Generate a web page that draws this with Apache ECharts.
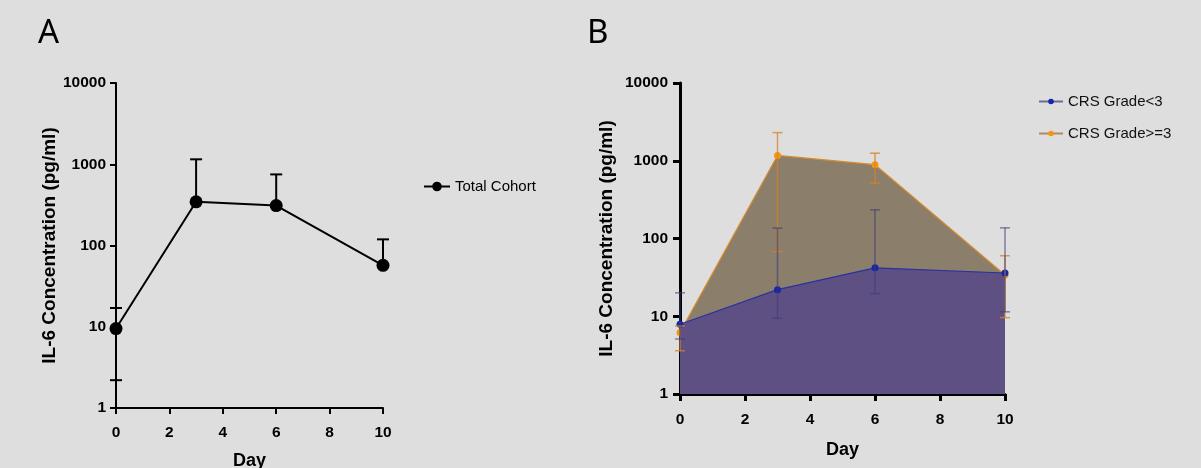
<!DOCTYPE html>
<html><head><meta charset="utf-8">
<script src="https://cdn.jsdelivr.net/npm/echarts@6/dist/echarts.min.js"></script>
<style>html,body{margin:0;padding:0;background:#dedede;}#c{width:1201px;height:468px;}</style>
</head><body><div id="c"></div>
<script>
// ---- data ----
const days = [0, 3, 6, 10];
const xTicks = [0, 2, 4, 6, 8, 10];
const yTicks = [1, 10, 100, 1000, 10000];
// Panel A: total cohort
const totalMean  = [9.5, 345, 310, 57];
const totalUpper = [17, 1150, 750, 119];
const totalLower = [2.2, null, null, null];
// Panel B
const lowMean  = [7.9, 22, 42, 36];
const lowUpper = [20, 136, 234, 137];
const lowLower = [5.1, 9.4, 19.6, 11.4];
const highMean  = [6.2, 1170, 890, 34];
const highUpper = [7.5, 2300, 1250, 60];
const highLower = [3.6, 68, 516, 9.6];

const tickFont = {fontFamily:'"Liberation Sans",Arial,sans-serif', fontWeight:'bold', fontSize:15.5, color:'#000'};
const nameFont = {fontFamily:'"Liberation Sans",Arial,sans-serif', fontWeight:'bold', fontSize:19, color:'#000'};

function errBars(xIdx, yIdx, mean, up, lo, color, width, cap, z){
  const data = days.map((d,i)=>[d, mean[i], up[i], lo[i]]);
  return {
    type:'custom', xAxisIndex:xIdx, yAxisIndex:yIdx, z:z, silent:true,
    data:data,
    encode:{x:0, y:[1,2]},
    renderItem:function(params, api){
      const x = api.value(0), m = api.value(1), u = api.value(2), l = api.value(3);
      const children = [];
      const st = {stroke:color, lineWidth:width};
      const pm = api.coord([x, m]);
      if (u && !isNaN(u)) {
        const pu = api.coord([x, u]);
        children.push({type:'line', shape:{x1:pm[0],y1:pm[1],x2:pu[0],y2:pu[1]}, style:st});
        children.push({type:'line', shape:{x1:pu[0]-cap,y1:pu[1],x2:pu[0]+cap,y2:pu[1]}, style:st});
      }
      if (l && !isNaN(l)) {
        const pl = api.coord([x, l]);
        children.push({type:'line', shape:{x1:pm[0],y1:pm[1],x2:pl[0],y2:pl[1]}, style:st});
        children.push({type:'line', shape:{x1:pl[0]-cap,y1:pl[1],x2:pl[0]+cap,y2:pl[1]}, style:st});
      }
      return {type:'group', children:children};
    }
  };
}

function xAxis(gi, lw, tl, margin, gap){
  return {type:'value', gridIndex:gi, min:0, max:10, interval:2,
    name:'Day', nameLocation:'middle', nameGap:gap,
    nameTextStyle:Object.assign({}, nameFont, {fontSize:18}),
    axisLine:{show:true, onZero:false, lineStyle:{color:'#000', width:lw}},
    axisTick:{show:true, length:tl, lineStyle:{color:'#000', width:lw}},
    axisLabel:Object.assign({margin:margin}, tickFont),
    splitLine:{show:false}};
}
function yAxis(gi, lw, tl, margin, gap){
  return {type:'log', logBase:10, gridIndex:gi, min:1, max:10000,
    name:'IL-6 Concentration (pg/ml)', nameLocation:'middle', nameGap:gap,
    nameTextStyle:nameFont,
    axisLine:{show:true, lineStyle:{color:'#000', width:lw}},
    axisTick:{show:true, length:tl, lineStyle:{color:'#000', width:lw}},
    minorTick:{show:false},
    axisLabel:Object.assign({margin:margin, formatter:function(v){return yTicks.indexOf(Math.round(v))>=0?String(Math.round(v)):'';}}, tickFont),
    splitLine:{show:false}};
}

const chart = echarts.init(document.getElementById('c'), null, {renderer:'canvas'});
chart.setOption({
  backgroundColor:'#dedede',
  animation:false,
  title:[
    {text:'A', left:33, top:12, textStyle:{fontFamily:'"Noto Sans",sans-serif', fontWeight:'normal', fontSize:33, color:'#000'}},
    {text:'B', left:582, top:12, textStyle:{fontFamily:'"Noto Sans",sans-serif', fontWeight:'normal', fontSize:33, color:'#000'}}
  ],
  legend:[
    {left:418, top:174, orient:'vertical', itemWidth:26, itemHeight:12,
     textStyle:{fontFamily:'"Liberation Sans",Arial,sans-serif', fontSize:15, color:'#000'},
     data:[{name:'Total Cohort', lineStyle:{color:'#000', width:2}, itemStyle:{color:'#000'}}]},
    {left:1033, top:89, orient:'vertical', itemWidth:24, itemHeight:7, itemGap:17,
     textStyle:{fontFamily:'"Liberation Sans",Arial,sans-serif', fontSize:15, color:'#111'},
     data:[
       {name:'CRS Grade<3', lineStyle:{color:'#6a6c92', width:2}, itemStyle:{color:'#1626a8'}},
       {name:'CRS Grade>=3', lineStyle:{color:'#b08a62', width:2}, itemStyle:{color:'#f5960f'}}
     ]}
  ],
  grid:[
    {left:116, top:83, width:267, height:325, outerBoundsMode:'none', containLabel:false},
    {left:680, top:83, width:325, height:311, outerBoundsMode:'none', containLabel:false}
  ],
  xAxis:[xAxis(0, 2, 6, 17, 44), xAxis(1, 3, 7, 18, 47)],
  yAxis:[yAxis(0, 2, 6, 10, 56), yAxis(1, 3, 7, 12, 64)],
  series:[
    errBars(0, 0, totalMean, totalUpper, totalLower, '#000', 2, 6, 3),
    {type:'line', name:'Total Cohort', xAxisIndex:0, yAxisIndex:0, z:4,
     data:days.map((d,i)=>[d,totalMean[i]]),
     symbol:'circle', symbolSize:13, itemStyle:{color:'#000'}, lineStyle:{color:'#000', width:2}},
    {type:'line', name:'CRS Grade>=3', xAxisIndex:1, yAxisIndex:1, z:2,
     data:days.map((d,i)=>[d,highMean[i]]),
     symbol:'circle', symbolSize:7, itemStyle:{color:'#f5960f'}, lineStyle:{color:'#d98a2a', width:1.2},
     areaStyle:{color:'#8b7e6b', opacity:1, origin:'start'}},
    {type:'line', name:'CRS Grade<3', xAxisIndex:1, yAxisIndex:1, z:3,
     data:days.map((d,i)=>[d,lowMean[i]]),
     symbol:'circle', symbolSize:7, itemStyle:{color:'#1626a8'}, lineStyle:{color:'#2a32a0', width:1.2},
     areaStyle:{color:'#5e5083', opacity:1, origin:'start'}},
    errBars(1, 1, highMean, highUpper, highLower, 'rgba(215,130,40,0.75)', 1.5, 5, 4),
    errBars(1, 1, lowMean, lowUpper, lowLower, 'rgba(60,60,120,0.6)', 1.5, 5, 5)
  ]
});
</script></body></html>
